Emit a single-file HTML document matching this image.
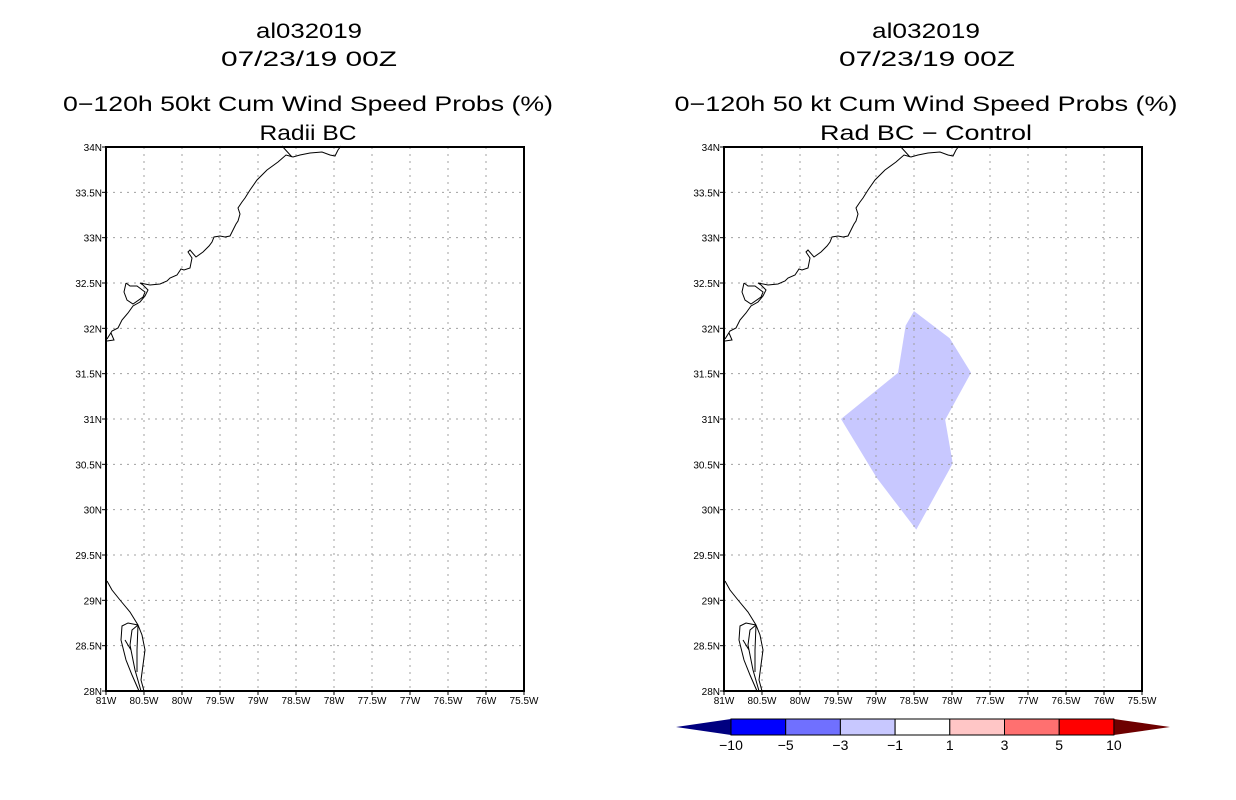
<!DOCTYPE html>
<html><head><meta charset="utf-8"><style>
html,body{margin:0;padding:0;background:#fff;}
svg{display:block;font-family:"Liberation Sans",sans-serif;}
</style></head><body>
<svg id="chart" width="1236" height="800" viewBox="0 0 1236 800">
<g id="titles" font-size="21" fill="#000" text-anchor="middle">
  <text x="309" y="38" textLength="106" lengthAdjust="spacingAndGlyphs">al032019</text>
  <text x="309" y="66" textLength="176" lengthAdjust="spacingAndGlyphs">07/23/19 00Z</text>
  <text x="308" y="111" textLength="490" lengthAdjust="spacingAndGlyphs">0−120h 50kt Cum Wind Speed Probs (%)</text>
  <text x="308" y="140" textLength="97" lengthAdjust="spacingAndGlyphs">Radii BC</text>
  <text x="926" y="38" textLength="108" lengthAdjust="spacingAndGlyphs">al032019</text>
  <text x="927" y="66" textLength="176" lengthAdjust="spacingAndGlyphs">07/23/19 00Z</text>
  <text x="926" y="111" textLength="503" lengthAdjust="spacingAndGlyphs">0−120h 50 kt Cum Wind Speed Probs (%)</text>
  <text x="926" y="140" textLength="212" lengthAdjust="spacingAndGlyphs">Rad BC − Control</text>
</g>
</svg>
<script>
// Axis domains
const lonTicks = [81, 80.5, 80, 79.5, 79, 78.5, 78, 77.5, 77, 76.5, 76, 75.5];
const latTicks = [28, 28.5, 29, 29.5, 30, 30.5, 31, 31.5, 32, 32.5, 33, 33.5, 34];
// Difference-field shaded region (-3 to -1 %), lon W / lat N
const shadeLon = [79.46, 78.71, 78.61, 78.5, 78.03, 77.75, 78.09, 77.99, 78.47, 78.99];
const shadeLat = [31.0, 31.51, 32.03, 32.19, 31.89, 31.51, 30.99, 30.51, 29.78, 30.35];
// Colorbar
const cbLevels = ["-10", "-5", "-3", "-1", "1", "3", "5", "10"];
const cbColors = ["#0000ff", "#7070ff", "#c8c8ff", "#ffffff", "#ffc6c6", "#ff7070", "#ff0000"];

const NS = "http://www.w3.org/2000/svg";
const svg = document.getElementById("chart");
function mk(tag, attrs, parent) {
  const e = document.createElementNS(NS, tag);
  for (const k in attrs) e.setAttribute(k, attrs[k]);
  (parent || svg).appendChild(e);
  return e;
}
const panels = [{x0: 106, name: "left"}, {x0: 724, name: "right"}];
const W = 418, TOP = 147, BOT = 691;
function xs(p, lon) { return p.x0 + (81 - lon) / 5.5 * W; }
function ys(lat) { return BOT - (lat - 28) / 6 * (BOT - TOP); }

// coastline in left-panel pixel coordinates (map outline, not data)
const coastN = "M107,339 L112,331 L118,328 L122,320 L128,313 L133,306 L140,302 L145,296 L148,290 L143,285 L140,283 L150,285 L160,284 L167,281 L170,278 L177,275 L181,269 L184,270 L190,268 L192,258 L188,252 L190,250 L196,257 L203,252 L209,246 L212,242 L214,237 L220,236 L225,237 L230,236 L233,230 L236,224 L238,221 L240,214 L238,208 L242,202 L245,198 L250,190 L257,180 L267,170 L278,162 L286,155 L293,157 L300,155 L310,153 L322,152 L330,155 L335,156 L338,150 L341,146 M282,146 L292,157 M126,283 L124,292 L127,300 L133,304 L143,297 L145,292 L137,286 L130,286 L126,283 M111,333 L114,340 L107,341";
const coastS = "M107,581 L112,590 L120,600 L130,612 L138,625 L142,635 L145,650 L143,665 L141,680 L144,691 M138,625 L128,623 L122,626 L121,640 L126,660 L132,675 L139,691 M138,625 L132,630 L130,645 L135,670 L141,691 M138,625 L137,650 L137,672 M125,640 L131,650";

panels.forEach(p => {
  const g = mk("g", {});
  
  
  if (p.name === "right") {
    const pts = shadeLon.map((lo, i) => xs(p, lo) + "," + ys(shadeLat[i])).join(" ");
    const poly = mk("polygon", {points: pts, fill: "#c8c8ff", stroke: "none"}, g);
    
    
  }
  // gridlines
  lonTicks.forEach((lo, i) => {
    if (i > 0 && i < lonTicks.length - 1) {
      const l = mk("line", {x1: xs(p, lo), x2: xs(p, lo), y1: TOP, y2: BOT, stroke: "#a0a0a0", "stroke-dasharray": "2,5"}, g);
      
      
    }
    const t = mk("text", {x: xs(p, lo), y: 704, "font-size": 10, "text-anchor": "middle"}, g);
    t.textContent = lo + "W";
    
    
    mk("line", {x1: xs(p, lo), x2: xs(p, lo), y1: BOT, y2: BOT + 4, stroke: "#000"}, g);
  });
  latTicks.forEach((la, i) => {
    if (i > 0 && i < latTicks.length - 1) {
      const l = mk("line", {x1: p.x0, x2: p.x0 + W, y1: ys(la), y2: ys(la), stroke: "#a0a0a0", "stroke-dasharray": "2,5"}, g);
      
      
    }
    const t = mk("text", {x: p.x0 - 4, y: ys(la) + 4, "font-size": 10, "text-anchor": "end"}, g);
    t.textContent = la + "N";
    
    
    mk("line", {x1: p.x0 - 4, x2: p.x0, y1: ys(la), y2: ys(la), stroke: "#000"}, g);
  });
  const coast = mk("path", {d: coastN + " " + coastS, fill: "none", stroke: "#000", "stroke-width": 1, transform: "translate(" + (p.x0 - 106) + ",0)"}, g);
  
  
  const fr = mk("rect", {x: p.x0, y: TOP, width: W, height: BOT - TOP, fill: "none", stroke: "#000", "stroke-width": 2}, g);
  
  
});

// colorbar
const cb = mk("g", {});


const cbX0 = 731, cbStep = 54.7, cbY = 719, cbH = 16;
const lt = mk("polygon", {points: `676,${cbY + cbH / 2} ${cbX0},${cbY} ${cbX0},${cbY + cbH}`, fill: "#000080"}, cb);


const xEnd = cbX0 + cbColors.length * cbStep;
const rt = mk("polygon", {points: `${xEnd},${cbY} ${xEnd},${cbY + cbH} 1170,${cbY + cbH / 2}`, fill: "#6e0000"}, cb);


cbColors.forEach((c, i) => {
  const r = mk("rect", {x: cbX0 + i * cbStep, y: cbY, width: cbStep, height: cbH, fill: c, stroke: "#000", "stroke-width": 1}, cb);
  
  
});
cbLevels.forEach((lv, i) => {
  const t = mk("text", {x: cbX0 + i * cbStep, y: 750, "font-size": 14, "text-anchor": "middle"}, cb);
  t.textContent = lv.replace("-", "−");
  
  
});
</script>
</body></html>
